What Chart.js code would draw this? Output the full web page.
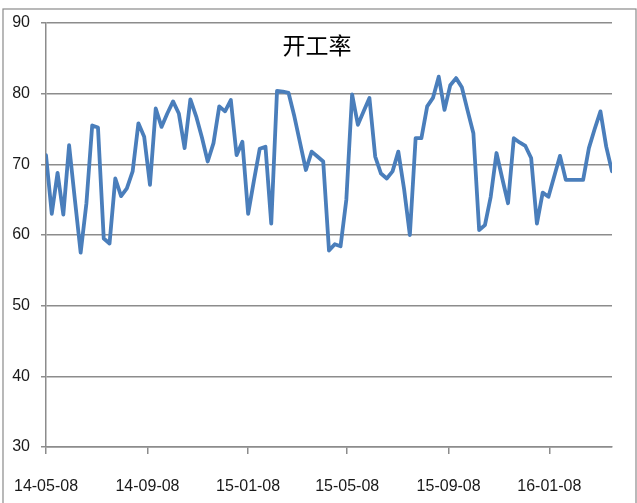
<!DOCTYPE html>
<html>
<head>
<meta charset="utf-8">
<script src="https://cdn.jsdelivr.net/npm/chart.js@4.4.1/dist/chart.umd.min.js"></script>
<style>
  html, body { margin: 0; padding: 0; background: #fff; }
  #wrap { width: 637px; height: 503px; position: relative; }
</style>
</head>
<body>
<div id="wrap"><canvas id="c" width="637" height="503"></canvas></div>
<script>
// Weekly operating rate (开工率), first reading on 2014-05-08, one value per week
const chartTitle = '开工率';
const firstWeek = '2014-05-08';
const rateValues = [
  71.3, 63.0, 68.8, 62.9, 72.7, 65.0, 57.5, 64.5, 75.5, 75.2,
  59.5, 58.8, 68.0, 65.5, 66.6, 69.0, 75.8, 73.9, 67.1, 77.9,
  75.3, 77.2, 78.9, 77.2, 72.3, 79.2, 76.8, 73.8, 70.4, 73.0,
  78.2, 77.5, 79.1, 71.3, 73.2, 63.0, 67.7, 72.2, 72.5, 61.6,
  80.4, 80.3, 80.1, 76.8, 73.0, 69.2, 71.8, 71.1, 70.4, 57.8,
  58.7, 58.4, 65.0, 79.9, 75.6, 77.5, 79.4, 71.1, 68.7, 68.0,
  69.0, 71.8, 66.5, 60.0, 73.7, 73.7, 78.2, 79.4, 82.4, 77.7,
  81.2, 82.2, 80.9, 77.6, 74.4, 60.7, 61.4, 65.4, 71.6, 68.0,
  64.5, 73.7, 73.1, 72.6, 70.9, 61.6, 66.0, 65.4, 68.3, 71.2,
  67.8, 67.8, 67.8, 67.8, 72.3, 75.0, 77.5, 72.5, 69.0
];
// Date axis labels (yy-mm-dd)
const dateTickLabels = ['14-05-08', '14-09-08', '15-01-08', '15-05-08', '15-09-08', '16-01-08'];
const yTickValues = [30, 40, 50, 60, 70, 80, 90];

const DAY = 86400000;
const t0 = Date.parse(firstWeek + 'T00:00:00Z');
const dayOf = (yyMmDd) => (Date.parse('20' + yyMmDd + 'T00:00:00Z') - t0) / DAY;

const points = rateValues.map((v, i) => ({ x: i * 7, y: v }));
const tickDays = dateTickLabels.map(dayOf);
const lastDay = (rateValues.length - 1) * 7;

const gridGray = '#8c8c8c';
const labelFont = { family: 'Liberation Sans, Arial, sans-serif', size: 16 };

// outer frame of the chart
const framePlugin = {
  id: 'frame',
  beforeDraw(chart) {
    const ctx = chart.ctx;
    ctx.save();
    ctx.fillStyle = '#fff';
    ctx.fillRect(0, 0, chart.width, chart.height);
    ctx.strokeStyle = '#8a8a8a';
    ctx.lineWidth = 1.2;
    ctx.strokeRect(3, 9, 633, 520);
    ctx.restore();
  }
};

// title inside the plot area
const titlePlugin = {
  id: 'innerTitle',
  afterDatasetsDraw(chart) {
    const ctx = chart.ctx;
    ctx.save();
    ctx.font = '23px "Noto Sans CJK SC", sans-serif';
    ctx.fillStyle = '#000';
    ctx.textAlign = 'center';
    ctx.textBaseline = 'middle';
    ctx.fillText(chartTitle, 317, 45);
    ctx.restore();
  }
};

new Chart(document.getElementById('c'), {
  type: 'line',
  data: {
    datasets: [{
      label: chartTitle,
      data: points,
      borderColor: '#4A7EBB',
      borderWidth: 3.8,
      borderJoinStyle: 'round',
      borderCapStyle: 'round',
      pointRadius: 0,
      tension: 0,
      fill: false
    }]
  },
  options: {
    responsive: false,
    animation: false,
    devicePixelRatio: 1,
    layout: { padding: { left: 0, right: 25, top: 23, bottom: 0 } },
    plugins: {
      legend: { display: false },
      tooltip: { enabled: false },
      title: { display: false }
    },
    scales: {
      x: {
        type: 'linear',
        min: 0,
        max: lastDay,
        afterBuildTicks(scale) {
          scale.ticks = tickDays.map(v => ({ value: v }));
        },
        afterFit(scale) {
          scale.height = 56;
          scale.paddingLeft = 0;
          scale.paddingRight = 0;
        },
        ticks: {
          autoSkip: false,
          maxRotation: 0,
          minRotation: 0,
          padding: 23,
          color: '#1a1a1a',
          font: labelFont,
          callback: (v, i) => dateTickLabels[i]
        },
        grid: {
          drawOnChartArea: false,
          drawTicks: true,
          tickLength: 7,
          color: gridGray,
          lineWidth: 1.5
        },
        border: { display: true, color: gridGray, width: 1.5 }
      },
      y: {
        min: 30,
        max: 90,
        afterBuildTicks(scale) {
          scale.ticks = yTickValues.map(v => ({ value: v }));
        },
        afterFit(scale) { scale.width = 46; },
        ticks: {
          padding: 11,
          color: '#1a1a1a',
          font: labelFont
        },
        grid: {
          drawOnChartArea: true,
          drawTicks: true,
          tickLength: 5,
          color: gridGray,
          lineWidth: 1.5
        },
        border: { display: true, color: gridGray, width: 1.5 }
      }
    }
  },
  plugins: [framePlugin, titlePlugin]
});
</script>
</body>
</html>
